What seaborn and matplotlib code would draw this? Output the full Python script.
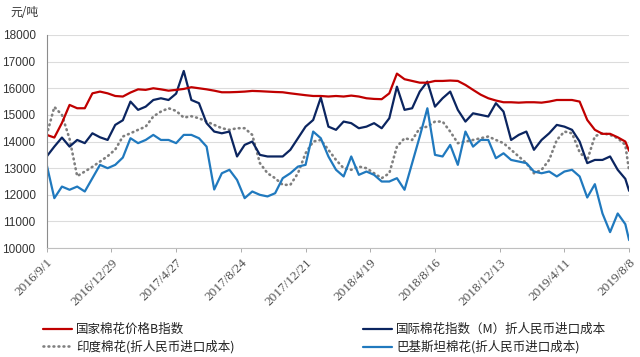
import matplotlib
matplotlib.use("Agg")
import matplotlib.pyplot as plt
import pandas as pd
import seaborn as sns

# dates: every two weeks from 2016/9/1, plus the last day 2019/8/8
dates = list(pd.date_range("2016-09-01", periods=77, freq="14D")) + [pd.Timestamp("2019-08-08")]

# 国家棉花价格B指数
b_index = [14250, 14150, 14700, 15375, 15250, 15250, 15810, 15875, 15810, 15710,
           15690, 15840, 15960, 15940, 16000, 15960, 15910, 15940, 15975, 16040,
           16000, 15960, 15910, 15850, 15850, 15860, 15875, 15900, 15890, 15875,
           15860, 15850, 15810, 15775, 15740, 15710, 15710, 15690, 15710, 15690,
           15725, 15690, 15625, 15600, 15590, 15810, 16550, 16340, 16275, 16210,
           16210, 16275, 16275, 16290, 16275, 16125, 15940, 15760, 15625, 15540,
           15475, 15475, 15460, 15475, 15475, 15460, 15500, 15560, 15560, 15560,
           15500, 14810, 14440, 14290, 14290, 14160, 14000, 13650]

# 国际棉花指数（M）折人民币进口成本
m_index = [13440, 13810, 14150, 13810, 14060, 13940, 14310, 14160, 14060, 14625,
           14800, 15500, 15190, 15310, 15560, 15625, 15560, 15800, 16650, 15560,
           15440, 14690, 14375, 14310, 14375, 13440, 13875, 14000, 13500, 13440,
           13440, 13440, 13690, 14125, 14560, 14810, 15650, 14560, 14440, 14750,
           14690, 14500, 14560, 14690, 14500, 14875, 16060, 15190, 15250, 15875,
           16250, 15310, 15625, 15875, 15190, 14750, 15060, 15000, 14940, 15440,
           15125, 14060, 14250, 14375, 13690, 14060, 14310, 14625, 14560, 14440,
           14000, 13190, 13310, 13310, 13440, 12940, 12600, 12150]

# 印度棉花(折人民币进口成本)
india = [14250, 15300, 15000, 14100, 12700, 12875, 13050, 13250, 13450, 13700,
         14190, 14310, 14440, 14560, 14940, 15125, 15250, 15150, 14900, 14950,
         14875, 14750, 14625, 14500, 14440, 14500, 14500, 14250, 13190, 12810,
         12625, 12375, 12375, 12810, 13560, 14000, 14060, 13690, 13310, 13000,
         12940, 13060, 13000, 12810, 12625, 12810, 13810, 14125, 14060, 14500,
         14560, 14750, 14750, 14375, 13940, 14000, 14060, 14125, 14190, 14060,
         13940, 13690, 13440, 13190, 12810, 12940, 13310, 14060, 14375, 14310,
         13600, 13300, 14200, 14310, 14250, 14125, 13875, 12900]

# 巴基斯坦棉花(折人民币进口成本)
pakistan = [13125, 11875, 12310, 12190, 12310, 12125, 12625, 13125, 13000, 13125,
            13400, 14125, 13940, 14060, 14250, 14060, 14060, 13940, 14250, 14250,
            14125, 13810, 12200, 12810, 12940, 12560, 11875, 12125, 12000, 11940,
            12060, 12625, 12810, 13060, 13125, 14375, 14125, 13440, 12940, 12690,
            13440, 12750, 12875, 12750, 12500, 12500, 12625, 12190, 13190, 14190,
            15250, 13500, 13440, 13875, 13125, 14375, 13810, 14060, 14060, 13375,
            13560, 13310, 13250, 13190, 12875, 12810, 12875, 12690, 12875, 12940,
            12690, 11900, 12400, 11300, 10600, 11300, 10900, 10300]

tick_dates = ["2016-09-01", "2016-12-29", "2017-04-27", "2017-08-24", "2017-12-21",
              "2018-04-19", "2018-08-16", "2018-12-13", "2019-04-11", "2019-08-08"]
tick_labels = ["2016/9/1", "2016/12/29", "2017/4/27", "2017/8/24", "2017/12/21",
               "2018/4/19", "2018/8/16", "2018/12/13", "2019/4/11", "2019/8/8"]

series_names = ["国家棉花价格B指数", "国际棉花指数（M）折人民币进口成本",
                "印度棉花(折人民币进口成本)", "巴基斯坦棉花(折人民币进口成本)"]

sns.set_style("white")
plt.rcParams["font.family"] = ["Liberation Sans", "Noto Sans CJK SC", "DejaVu Sans"]
cjk = ["Noto Sans CJK SC", "DejaVu Sans"]

df = pd.DataFrame({"date": dates, "b": b_index, "m": m_index,
                   "india": india, "pak": pakistan})

fig = plt.figure(figsize=(6.4, 3.57), dpi=100)
ax = fig.add_axes([0.073, 0.305, 0.910, 0.597])

red = "#C00000"
navy = "#0B2560"
lblue = "#2079BE"
grey = "#7F7F7F"

sns.lineplot(data=df, x="date", y="india", ax=ax, color=grey, linewidth=1.9,
             linestyle=(0, (0.3, 1.6)), label=series_names[2])
sns.lineplot(data=df, x="date", y="pak", ax=ax, color=lblue, linewidth=1.6,
             label=series_names[3])
sns.lineplot(data=df, x="date", y="m", ax=ax, color=navy, linewidth=1.6,
             label=series_names[1])
sns.lineplot(data=df, x="date", y="b", ax=ax, color=red, linewidth=1.6,
             label=series_names[0])
for ln in ax.lines:
    ln.set_dash_capstyle("round")

ax.set_xlim(pd.Timestamp("2016-09-01"), pd.Timestamp("2019-08-08"))
ax.set_ylim(10000, 18000)
ax.set_yticks(range(10000, 18001, 1000))
ax.set_xticks([pd.Timestamp(d) for d in tick_dates])
ax.set_xticklabels(tick_labels, rotation=45, ha="right", rotation_mode="anchor",
                   family="Liberation Serif", fontsize=9.5, color="#505050")
ax.tick_params(axis="y", labelsize=8.5, colors="#333333", length=0, pad=8)
ax.tick_params(axis="x", length=3, width=0.6, color="#A0A0A0", pad=3, direction="out")
ax.xaxis.set_tick_params(bottom=True)
ax.set_xlabel("")
ax.set_ylabel("")
ax.grid(axis="y", color="#DCDCDC", linewidth=0.8)
ax.set_axisbelow(True)
for s in ["top", "right"]:
    ax.spines[s].set_visible(False)
ax.spines["left"].set_color("#8C8C8C")
ax.spines["bottom"].set_color("#BFBFBF")
ax.spines["left"].set_linewidth(0.8)
ax.spines["bottom"].set_linewidth(0.8)

fig.text(10 / 640, 1 - 12 / 357, "元/吨", family=cjk, fontsize=8.5,
         va="center", ha="left", color="#333333")

handles, labels = ax.get_legend_handles_labels()
ax.get_legend().remove()
h = dict(zip(labels, handles))
leg_kw = dict(loc="upper left", frameon=False, borderpad=0, borderaxespad=0,
              handlelength=2.3, handletextpad=0.35, labelspacing=0.35,
              prop={"family": cjk, "size": 9})
leg1 = fig.legend([h[series_names[0]], h[series_names[2]]],
                  [series_names[0], series_names[2]],
                  bbox_to_anchor=(43 / 640, 1 - 323 / 357), **leg_kw)
leg2 = fig.legend([h[series_names[1]], h[series_names[3]]],
                  [series_names[1], series_names[3]],
                  bbox_to_anchor=(363 / 640, 1 - 323 / 357), **leg_kw)
for leg in (leg1, leg2):
    for t in leg.get_texts():
        t.set_color("#222222")

fig.savefig("out.png", dpi=100, facecolor="white")
